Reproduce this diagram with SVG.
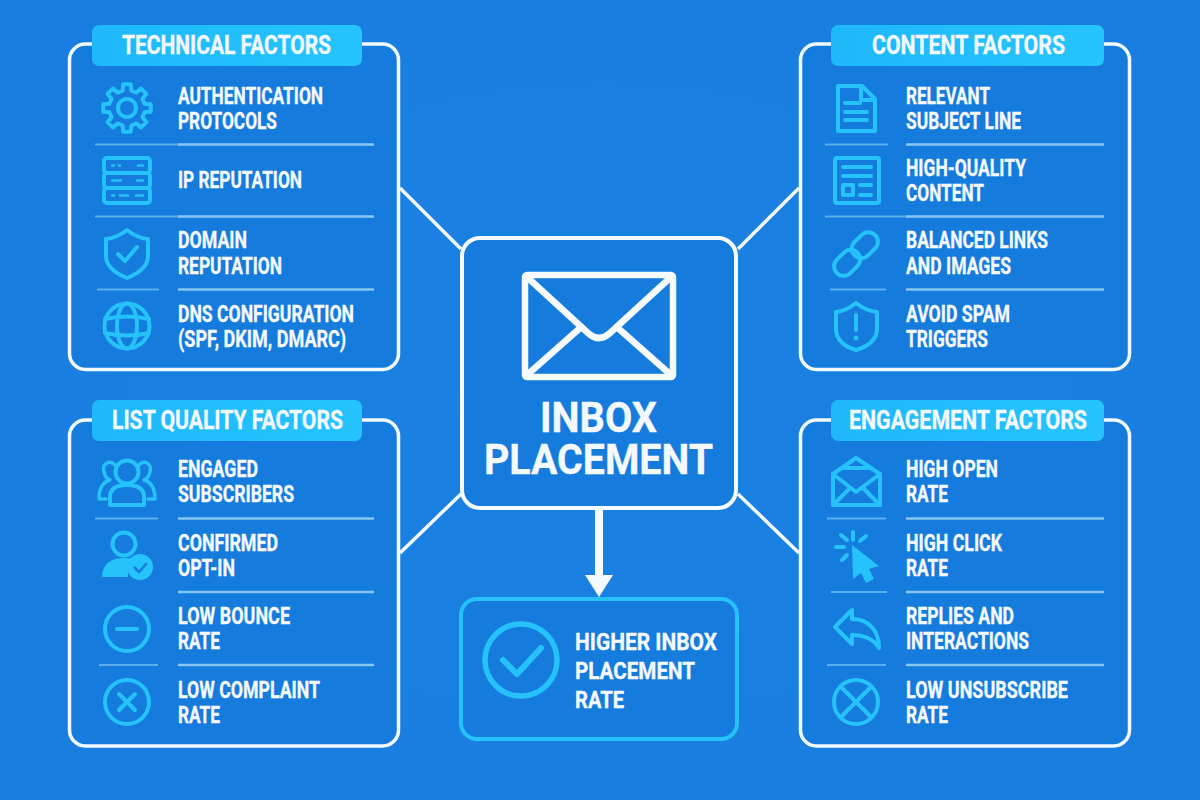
<svg xmlns="http://www.w3.org/2000/svg" width="1200" height="800" viewBox="0 0 1200 800">
<style>
.panel{fill:#157bdc;stroke:#f2f9ff;stroke-width:3.5}
.hdr{fill:url(#hg)}
text{font-family:"Roboto","Liberation Sans",sans-serif;font-weight:700;fill:#f3f9ff;stroke:#f3f9ff;stroke-width:0.35}
.h{font-size:25px}
.t{font-size:23px}
.sl{stroke:#5aaeee;stroke-width:2}
.sr{stroke:#86c6f5;stroke-width:2.5}
.i{fill:none;stroke:#25c2fb;stroke-width:4;stroke-linejoin:round;stroke-linecap:round}
.f{fill:#25c2fb;stroke:none}
.c{fill:none;stroke:#f2f9ff;stroke-width:3.5}
</style>
<defs>
<linearGradient id="hg" x1="0" y1="0" x2="1" y2="0"><stop offset="0" stop-color="#1eb8fb"/><stop offset="1" stop-color="#25c4ff"/></linearGradient>
<radialGradient id="bg" cx="0.5" cy="0.5" r="0.75"><stop offset="0" stop-color="#1a81e3"/><stop offset="1" stop-color="#187ddf"/></radialGradient>
<marker id="ah" markerUnits="userSpaceOnUse" markerWidth="24" markerHeight="30" refX="0" refY="15" orient="auto"><path d="M0,1L22,15L0,29Z" fill="#f5faff"/></marker>
</defs>
<rect width="1200" height="800" fill="url(#bg)"/>
<g id="connectors">
<line class="c" x1="400" y1="188" x2="461" y2="249"/>
<line class="c" x1="799" y1="188" x2="738" y2="249"/>
<line class="c" x1="400" y1="553" x2="461" y2="494"/>
<line class="c" x1="799" y1="553" x2="738" y2="494"/>
<line x1="599" y1="508" x2="599" y2="575" stroke="#f5faff" stroke-width="8" marker-end="url(#ah)"/>
</g>
<g id="technical">
<rect class="panel" x="69.500" y="44" width="329" height="325.500" rx="16"/>
<rect class="hdr" x="92" y="25" width="270" height="41" rx="7"/>
<text class="h" x="122" y="54" textLength="209" lengthAdjust="spacingAndGlyphs">TECHNICAL FACTORS</text>
<path class="sl" d="M95,144.500H178M95,216.500H178M97,289.500H159"/><path class="sr" d="M178,144.500H374M178,216.500H374M178,289.500H374"/>
<g id="i-gear" transform="translate(127,108)"><path class="i" d="M-3.750-23.700L3.750-23.700L4.350-17.500L9.270-15.400L14.100-19.400L19.400-14.100L15.400-9.270L17.500-4.350L23.700-3.750L23.700,3.750L17.500,4.350L15.400,9.270L19.400,14.100L14.100,19.400L9.270,15.400L4.350,17.500L3.750,23.700L-3.750,23.700L-4.350,17.500L-9.270,15.400L-14.100,19.400L-19.400,14.100L-15.400,9.270L-17.500,4.350L-23.700,3.750L-23.700-3.750L-17.500-4.350L-15.400-9.270L-19.400-14.100L-14.100-19.400L-9.270-15.400L-4.350-17.500Z"/><circle class="i" r="9"/></g>
<g id="i-server"><rect class="i" x="104" y="158" width="46" height="15" rx="3"/><rect class="i" x="104" y="173" width="46" height="15" rx="3"/><rect class="i" x="104" y="188" width="46" height="15" rx="3"/><path class="i" style="stroke-width:2.500" d="M112,165.500h2M119,165.500h1M138,165.500h5M112,180.500h9M137,180.500h6M112,195.500h2M120,195.500h8M136,195.500h7"/></g>
<g id="i-shield"><path class="i" d="M127,230Q137,238 148,239V256C148,267 137,274 127,278C117,274 106,267 106,256V239Q117,238 127,230Z"/><path class="i" d="M118,254L125,261L137,247"/></g>
<g id="i-globe" transform="translate(127,326)"><circle class="i" r="22.500"/><ellipse class="i" rx="10" ry="22.500"/><path class="i" d="M-22,-7Q0,-12 22,-7M-22,7Q0,12 22,7"/></g>
<text class="t" x="178" y="104" textLength="145" lengthAdjust="spacingAndGlyphs">AUTHENTICATION</text>
<text class="t" x="178" y="129" textLength="99" lengthAdjust="spacingAndGlyphs">PROTOCOLS</text>
<text class="t" x="178" y="188" textLength="124" lengthAdjust="spacingAndGlyphs">IP REPUTATION</text>
<text class="t" x="178" y="248" textLength="69" lengthAdjust="spacingAndGlyphs">DOMAIN</text>
<text class="t" x="178" y="274" textLength="104" lengthAdjust="spacingAndGlyphs">REPUTATION</text>
<text class="t" x="178" y="322" textLength="176" lengthAdjust="spacingAndGlyphs">DNS CONFIGURATION</text>
<text class="t" x="178" y="347" textLength="168" lengthAdjust="spacingAndGlyphs">(SPF, DKIM, DMARC)</text>
</g>
<g id="content">
<rect class="panel" x="800.500" y="44" width="329" height="325.500" rx="16"/>
<rect class="hdr" x="831" y="25" width="273" height="41" rx="7"/>
<text class="h" x="872" y="54" textLength="193" lengthAdjust="spacingAndGlyphs">CONTENT FACTORS</text>
<path class="sl" d="M825,144.500H888M825,216.500H906M830,289.500H886"/><path class="sr" d="M906,144.500H1104M906,216.500H1104M906,289.500H1104"/>
<g id="i-doc"><path class="i" d="M838,86H862L875,99V131H838Z"/><path class="i" d="M861,87V100H874M845,103H860M845,112H867M845,120H867"/></g>
<g id="i-news"><rect class="i" x="835" y="158" width="44" height="45" rx="2"/><path class="i" d="M843,167H871M843,176H871M843,185H853V195H843ZM860,185H871M860,195H871"/></g>
<g id="i-link" transform="translate(856,254) rotate(-45)"><rect class="i" x="-27" y="-9.500" width="29" height="19" rx="9.500"/><rect class="i" x="-2" y="-9.500" width="29" height="19" rx="9.500"/></g>
<g id="i-alert"><path class="i" d="M856,303Q866,311 877,312V329C877,340 867,347 856,350C845,347 836,340 836,329V312Q846,311 856,303Z"/><path class="i" d="M856,315V330"/><circle class="f" cx="856" cy="338" r="2.500"/></g>
<text class="t" x="906" y="104" textLength="84" lengthAdjust="spacingAndGlyphs">RELEVANT</text>
<text class="t" x="906" y="129" textLength="115" lengthAdjust="spacingAndGlyphs">SUBJECT LINE</text>
<text class="t" x="906" y="176" textLength="120" lengthAdjust="spacingAndGlyphs">HIGH-QUALITY</text>
<text class="t" x="906" y="201" textLength="78" lengthAdjust="spacingAndGlyphs">CONTENT</text>
<text class="t" x="906" y="248" textLength="142" lengthAdjust="spacingAndGlyphs">BALANCED LINKS</text>
<text class="t" x="906" y="274" textLength="105" lengthAdjust="spacingAndGlyphs">AND IMAGES</text>
<text class="t" x="906" y="322" textLength="104" lengthAdjust="spacingAndGlyphs">AVOID SPAM</text>
<text class="t" x="906" y="347" textLength="82" lengthAdjust="spacingAndGlyphs">TRIGGERS</text>
</g>
<g id="list-quality">
<rect class="panel" x="69.500" y="420" width="329" height="326" rx="16"/>
<rect class="hdr" x="92" y="400" width="270" height="41" rx="7"/>
<text class="h" x="112" y="429" textLength="231" lengthAdjust="spacingAndGlyphs">LIST QUALITY FACTORS</text>
<path class="sl" d="M95,518.500H158M99,665H158"/><path class="sr" d="M178,518.500H374M178,592H374M178,665H374"/>
<g id="i-people"><path class="i" style="stroke-width:3.500" d="M116,466C110,459 102,463 104,472C105,476 107,479 110,480C103,482 99,488 99,499H106M138,466C144,459 152,463 150,472C149,476 147,479 144,480C151,482 155,488 155,499H148"/><circle class="i" cx="127" cy="472" r="11.500"/><path class="i" d="M110,505V497C110,488 117,485 127,485C137,485 144,488 144,497V505Z"/></g>
<g id="i-user"><circle class="i" cx="124" cy="544" r="11.500"/><path class="f" d="M102,577C102,565 110,558 124,558C131,558 136,560 139,563C131,565 127,571 128,577Z"/><circle class="f" cx="140" cy="567" r="13"/><path d="M134,567L139,572L147,563" fill="none" stroke="#157bdc" stroke-width="2.500"/></g>
<g id="i-minus"><circle class="i" cx="127" cy="629" r="22"/><path class="i" d="M117,629H137"/></g>
<g id="i-x"><circle class="i" cx="127" cy="702" r="22"/><path class="i" d="M119,694L135,710M135,694L119,710"/></g>
<text class="t" x="178" y="477" textLength="80" lengthAdjust="spacingAndGlyphs">ENGAGED</text>
<text class="t" x="178" y="502" textLength="116" lengthAdjust="spacingAndGlyphs">SUBSCRIBERS</text>
<text class="t" x="178" y="551" textLength="100" lengthAdjust="spacingAndGlyphs">CONFIRMED</text>
<text class="t" x="178" y="576" textLength="57" lengthAdjust="spacingAndGlyphs">OPT-IN</text>
<text class="t" x="178" y="624" textLength="112" lengthAdjust="spacingAndGlyphs">LOW BOUNCE</text>
<text class="t" x="178" y="649" textLength="42" lengthAdjust="spacingAndGlyphs">RATE</text>
<text class="t" x="178" y="698" textLength="142" lengthAdjust="spacingAndGlyphs">LOW COMPLAINT</text>
<text class="t" x="178" y="723" textLength="42" lengthAdjust="spacingAndGlyphs">RATE</text>
</g>
<g id="engagement">
<rect class="panel" x="800.500" y="420" width="329" height="326" rx="16"/>
<rect class="hdr" x="831" y="400" width="273" height="41" rx="7"/>
<text class="h" x="849" y="429" textLength="238" lengthAdjust="spacingAndGlyphs">ENGAGEMENT FACTORS</text>
<path class="sl" d="M827,518.500H886M831,592H887M827,665H886"/><path class="sr" d="M906,518.500H1104M906,592H1104M906,665H1104"/>
<g id="i-open"><path class="i" d="M833,474L856,458L880,474V505H833Z"/><path class="i" d="M833,474L856,492L880,474M833,505L850,488M880,505L863,488M842,468H871"/></g>
<g id="i-cursor"><path class="f" d="M852,545L879,566L869,569L874,579L866,583L861,573L853,579Z"/><path class="i" d="M853,532V540M836,547H844M841,535L847,540M842,560L847,555M866,536L860,541"/></g>
<g id="i-reply"><path class="i" d="M835,627L852,610V619C870,619 879,632 879,648C873,638 864,635 852,635V644Z"/></g>
<g id="i-cross"><circle class="i" cx="856" cy="702" r="22"/><path class="i" d="M841,687L871,717M871,687L841,717"/></g>
<text class="t" x="906" y="477" textLength="92" lengthAdjust="spacingAndGlyphs">HIGH OPEN</text>
<text class="t" x="906" y="502" textLength="42" lengthAdjust="spacingAndGlyphs">RATE</text>
<text class="t" x="906" y="551" textLength="96" lengthAdjust="spacingAndGlyphs">HIGH CLICK</text>
<text class="t" x="906" y="576" textLength="42" lengthAdjust="spacingAndGlyphs">RATE</text>
<text class="t" x="906" y="624" textLength="108" lengthAdjust="spacingAndGlyphs">REPLIES AND</text>
<text class="t" x="906" y="649" textLength="123" lengthAdjust="spacingAndGlyphs">INTERACTIONS</text>
<text class="t" x="906" y="698" textLength="162" lengthAdjust="spacingAndGlyphs">LOW UNSUBSCRIBE</text>
<text class="t" x="906" y="723" textLength="42" lengthAdjust="spacingAndGlyphs">RATE</text>
</g>
<g id="center">
<rect x="462" y="238" width="274" height="270" rx="18" fill="#157bdc" stroke="#f5faff" stroke-width="4"/>
<g fill="none" stroke="#f5faff" stroke-width="6.500" stroke-linejoin="round" stroke-linecap="round"><rect x="525" y="275" width="148" height="102" rx="2"/><path d="M527,277L588,333Q599,343 610,333L671,277M527,375L579,329M671,375L619,329"/></g>
<text x="540" y="432" font-size="42" textLength="117" lengthAdjust="spacingAndGlyphs">INBOX</text>
<text x="484" y="474" font-size="42" textLength="229" lengthAdjust="spacingAndGlyphs">PLACEMENT</text>
</g>
<g id="outcome">
<rect x="461" y="599" width="276" height="140" rx="16" fill="#157bdc" stroke="#25c2fb" stroke-width="4"/>
<circle class="i" cx="521" cy="660" r="36" style="stroke-width:5.500"/>
<path class="i" d="M503,660L517,674L541,648" style="stroke-width:6"/>
<text class="t" x="575" y="650" textLength="142" lengthAdjust="spacingAndGlyphs">HIGHER INBOX</text>
<text class="t" x="575" y="679" textLength="120" lengthAdjust="spacingAndGlyphs">PLACEMENT</text>
<text class="t" x="575" y="708" textLength="49" lengthAdjust="spacingAndGlyphs">RATE</text>
</g>
</svg>
